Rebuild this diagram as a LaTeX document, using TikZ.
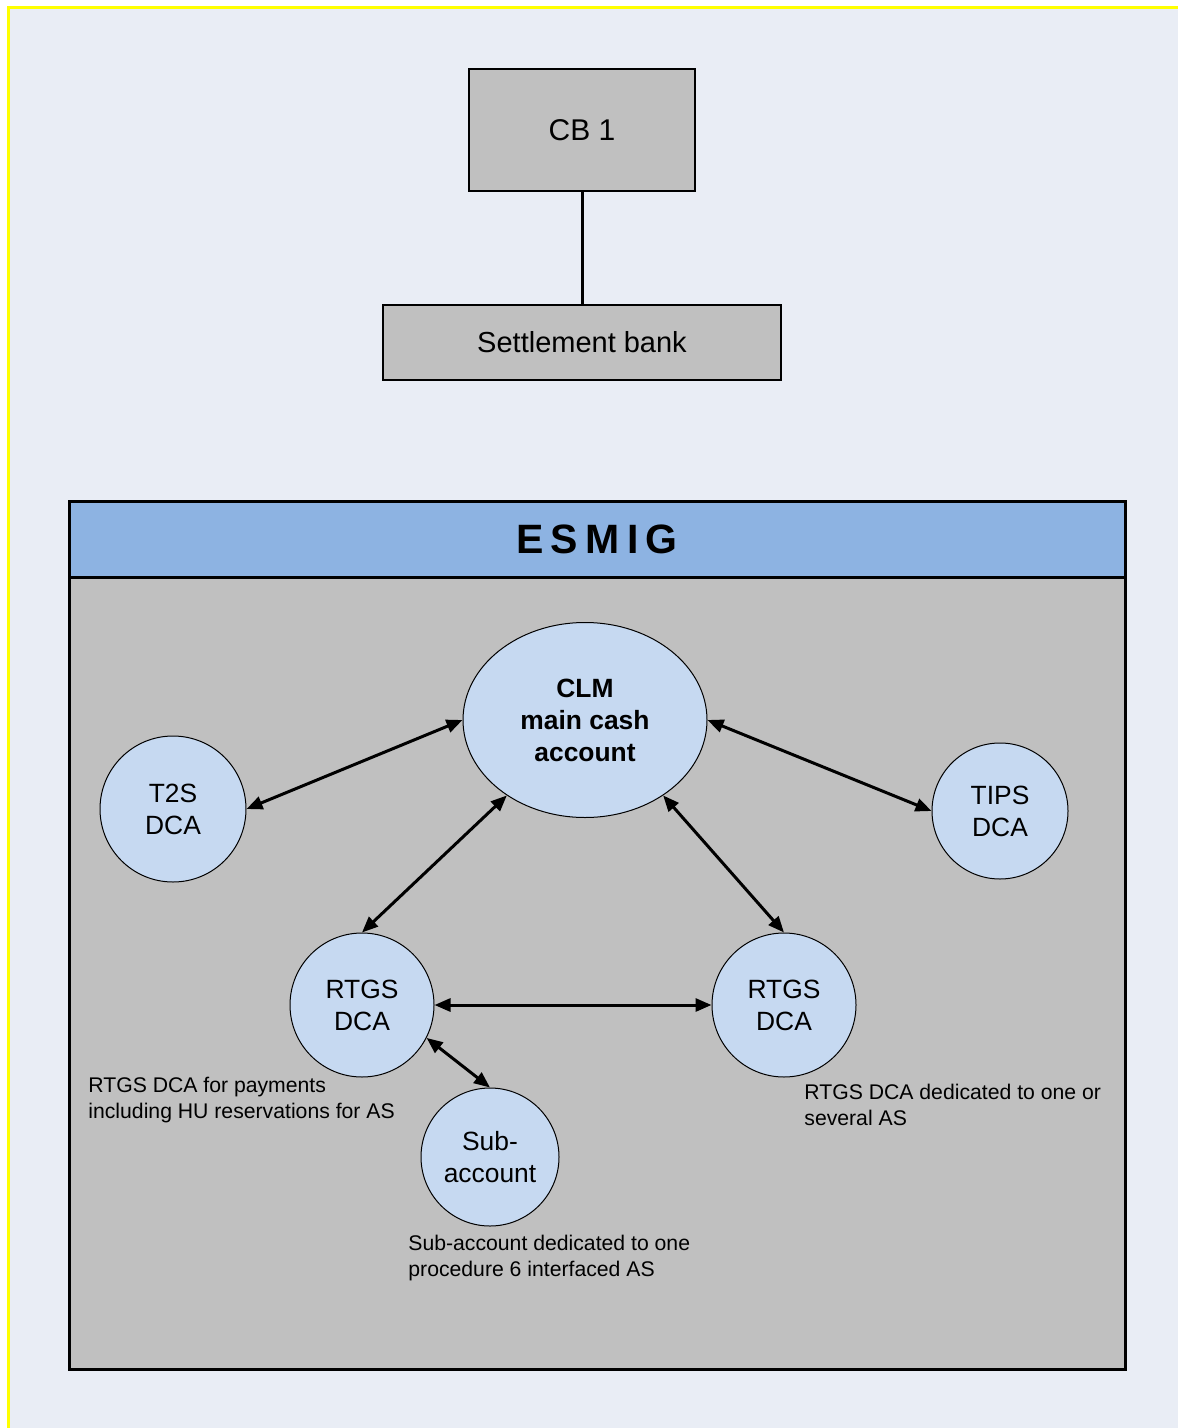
\documentclass[tikz,border=0pt]{standalone}
\usepackage{fontspec}
\setmainfont{Liberation Sans}
\usetikzlibrary{arrows.meta,shapes.geometric}
\definecolor{bgblue}{RGB}{233,237,245}
\definecolor{boxgray}{RGB}{192,192,192}
\definecolor{acctblue}{RGB}{198,217,241}
\definecolor{headblue}{RGB}{141,179,226}
\definecolor{frameyellow}{RGB}{255,255,0}
\begin{document}
\begin{tikzpicture}[x=0.5pt,y=-0.5pt,
  bigfont/.style={font=\fontsize{14.5}{16}\selectfont},
  acctfont/.style={font=\fontsize{13.2}{16}\selectfont},
  notefont/.style={font=\fontsize{10.6}{13}\selectfont},
  bankbox/.style={draw,fill=boxgray,line width=0.75pt,inner sep=0pt,bigfont},
  acct/.style={draw,fill=acctblue,circle,line width=0.5pt,inner sep=0pt,align=center,acctfont},
  note/.style={anchor=north west,align=left,inner sep=0pt,notefont},
  link/.style={{Triangle[length=8pt,width=6.5pt]}-{Triangle[length=8pt,width=6.5pt]},line width=1.5pt}]
\useasboundingbox (0,0) rectangle (1178,1428);
\fill[bgblue] (8,8) rectangle (1178,1428); % page background
\draw[frameyellow,line width=1.5pt] (8,1428) -- (8,8) -- (1178,8);

% central bank and settlement bank
\node[bankbox,minimum width=113pt,minimum height=61pt,font=\fontsize{15}{18}\selectfont] (cb) at (582,130) {CB 1};
\node[bankbox,minimum width=199pt,minimum height=37.5pt] (bank) at (582,342.5) {Settlement bank};
\draw[line width=1.5pt] (cb) -- (bank);

% ESMIG frame
\fill[boxgray] (69,577) rectangle (1125,1369);
\node[fill=headblue,minimum width=528pt,minimum height=38pt,inner sep=0pt,
  font=\fontsize{20.5}{24}\selectfont\bfseries] (esmig) at (597,539)
  {E\hspace{3.7pt}S\hspace{3.7pt}M\hspace{3.7pt}I\hspace{3.7pt}G};
\draw[line width=1.5pt] (69,501) rectangle (1125,1369);
\draw[line width=1.5pt] (esmig.south west) -- (esmig.south east);

% accounts
\node[acct,ellipse,minimum width=122pt,minimum height=97.5pt,font=\fontsize{13.2}{16}\selectfont\bfseries]
  (clm) at (585,720) {CLM\\main cash\\account};
\node[acct,minimum size=73pt] (t2s) at (173,809) {T2S\\DCA};
\node[acct,minimum size=68pt] (tips) at (1000,811) {TIPS\\DCA};
\node[acct,minimum size=72pt] (rtgsa) at (362,1005) {RTGS\\DCA};
\node[acct,minimum size=72pt] (rtgsb) at (784,1005) {RTGS\\DCA};
\node[acct,minimum size=69pt] (sub) at (490,1157) {Sub-\\account};

\draw[link] (t2s.east) -- (clm.west);
\draw[link] (clm.east) -- (tips.west);
\draw[link] (clm.224) -- (rtgsa.north);
\draw[link] (clm.-44) -- (rtgsb.north);
\draw[link] (rtgsa.east) -- (rtgsb.west);
\draw[link] (rtgsa.-27) -- (sub.north);

% notes
\node[note] (notea) at (88,1077) {RTGS DCA for payments\\including HU reservations for AS};
\node[note] (noteb) at (804,1084) {RTGS DCA dedicated to one or\\several AS};
\node[note] (notec) at (408,1235) {Sub-account dedicated to one\\procedure 6 interfaced AS};
\end{tikzpicture}
\end{document}
